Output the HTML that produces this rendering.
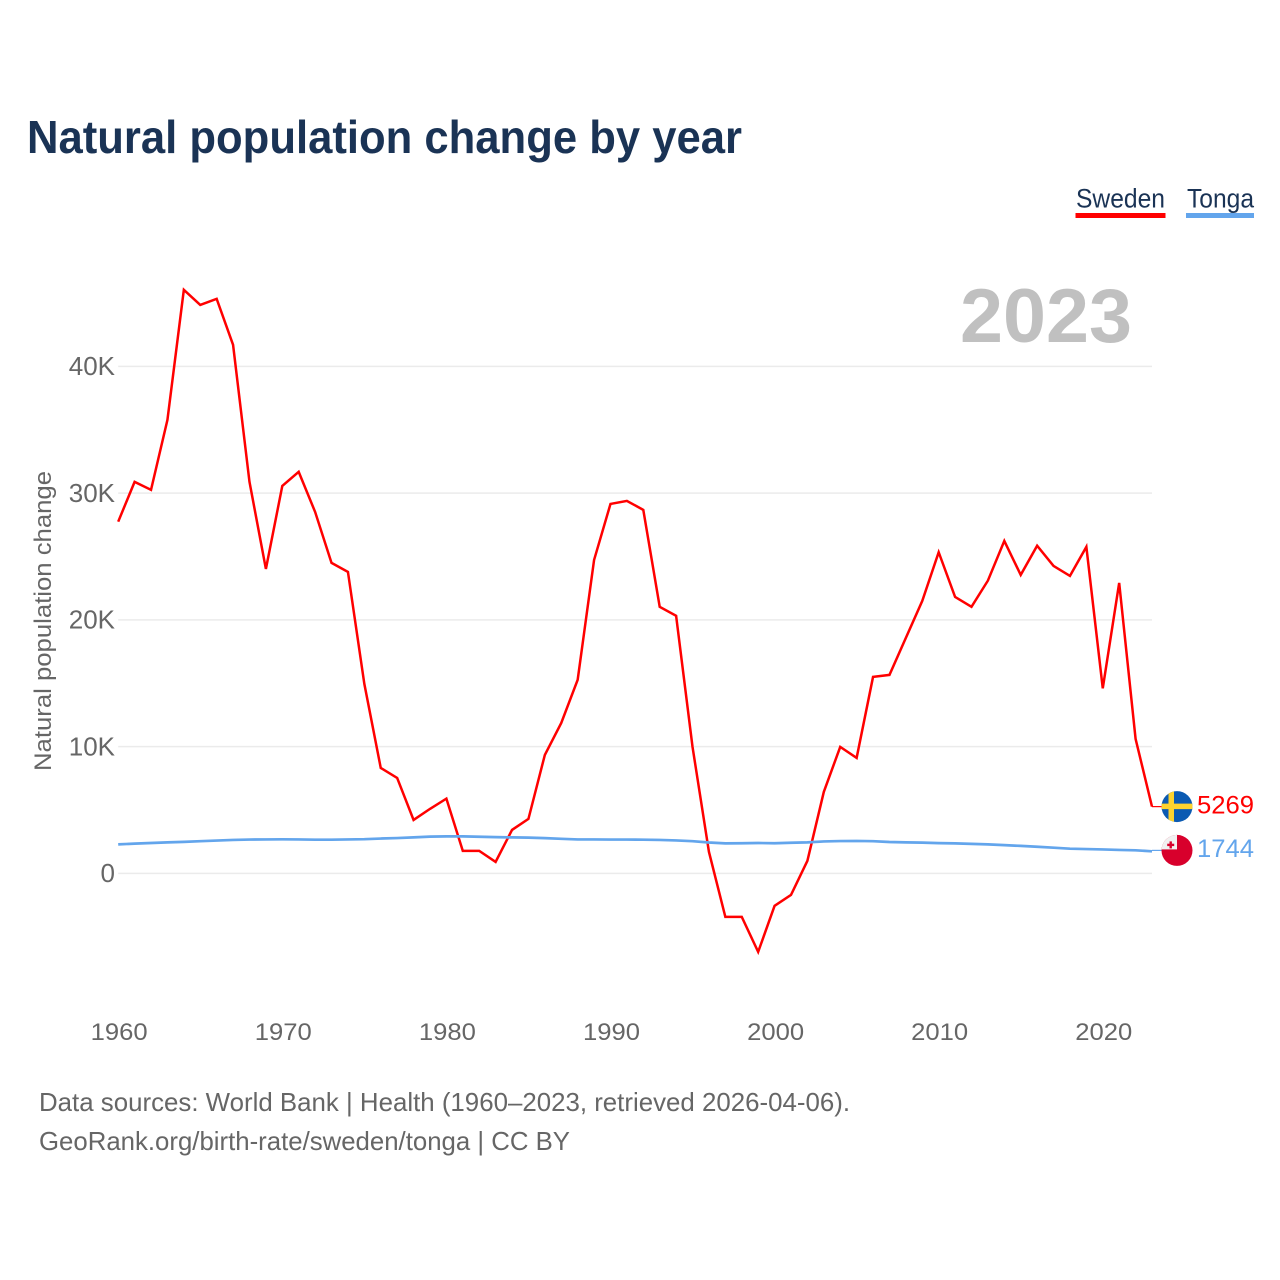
<!DOCTYPE html>
<html lang="en">
<head>
<meta charset="utf-8">
<title>Natural population change by year</title>
<style>
html,body{margin:0;padding:0;background:#fff;width:1280px;height:1280px;overflow:hidden}
svg{display:block}
text{font-family:"Liberation Sans",sans-serif}
</style>
</head>
<body>
<svg id="chart" xmlns="http://www.w3.org/2000/svg" width="1280" height="1280" viewBox="0 0 1280 1280">
  <rect x="0" y="0" width="1280" height="1280" fill="#ffffff"/>
  <text x="27" y="153" font-size="46" font-weight="700" fill="#1a3355" textLength="715" lengthAdjust="spacingAndGlyphs">Natural population change by year</text>

  <g>
    <text x="1076" y="207.5" font-size="27" fill="#1a3355" textLength="89" lengthAdjust="spacingAndGlyphs">Sweden</text>
    <rect x="1075.5" y="213" width="90" height="5" fill="#ff0000"/>
  </g>
  <g>
    <text x="1187" y="207.5" font-size="27" fill="#1a3355" textLength="67" lengthAdjust="spacingAndGlyphs">Tonga</text>
    <rect x="1186" y="213" width="68" height="5" fill="#63a5ec"/>
  </g>

  <text x="960" y="342" font-size="76" font-weight="700" fill="#c0c0c0" textLength="172" lengthAdjust="spacingAndGlyphs">2023</text>

  <g id="grid"></g>
  <g id="yticks"></g>
  <g id="xticks"></g>

  <text transform="translate(51,621) rotate(-90)" text-anchor="middle" font-size="24" fill="#666666" textLength="300" lengthAdjust="spacingAndGlyphs">Natural population change</text>

  <path id="line-sweden" fill="none" stroke="#ff0000" stroke-width="2.5" stroke-linejoin="miter"/>
  <path id="line-tonga" fill="none" stroke="#63a5ec" stroke-width="2.7" stroke-linejoin="round"/>

  <line id="connector-sweden" stroke="#ff0000" stroke-width="1.2"/>
  <line id="connector-tonga" stroke="#63a5ec" stroke-width="1.2"/>

  <defs>
    <clipPath id="flag-clip"><circle cx="0" cy="0" r="15.5"/></clipPath>
  </defs>
  <g id="flag-sweden">
    <g clip-path="url(#flag-clip)">
      <rect x="-16" y="-16" width="32" height="32" fill="#0b5ab2"/>
      <rect x="-8.5" y="-16" width="5.5" height="32" fill="#fdd32e"/>
      <rect x="-16" y="-3" width="32" height="5.5" fill="#fdd32e"/>
    </g>
  </g>
  <g id="flag-tonga">
    <g clip-path="url(#flag-clip)">
      <rect x="-16" y="-16" width="32" height="32" fill="#d8002c"/>
      <rect x="-16" y="-16" width="16" height="15" fill="#f1f1f1"/>
      <rect x="-7.5" y="-9" width="2.4" height="7" fill="#d8002c"/>
      <rect x="-9.8" y="-6.7" width="7" height="2.4" fill="#d8002c"/>
    </g>
  </g>

  <text id="value-sweden" x="1197" font-size="25" fill="#ff0000" textLength="57" lengthAdjust="spacingAndGlyphs"></text>
  <text id="value-tonga" x="1197" font-size="25" fill="#63a5ec" textLength="57" lengthAdjust="spacingAndGlyphs"></text>

  <text x="39" y="1111" font-size="26" fill="#666666" textLength="811" lengthAdjust="spacingAndGlyphs">Data sources: World Bank | Health (1960–2023, retrieved 2026-04-06).</text>
  <text x="39" y="1150" font-size="26" fill="#666666" textLength="531" lengthAdjust="spacingAndGlyphs">GeoRank.org/birth-rate/sweden/tonga | CC BY</text>
</svg>

<script>
const firstYear = 1960;
const xTickYears = [1960, 1970, 1980, 1990, 2000, 2010, 2020];
const yTickValues = [0, 10000, 20000, 30000, 40000];
const yTickLabels = ["0", "10K", "20K", "30K", "40K"];
const swedenValues = [
  27750, 30890, 30260, 35780, 46040, 44850, 45330, 41700, 30890, 24020,
  30570, 31680, 28520, 24500, 23790, 14950, 8320, 7530, 4220, 5090,
  5900, 1780, 1780, 910, 3430, 4300, 9350, 11870, 15270, 24730,
  29150, 29390, 28680, 21030, 20320, 9980, 1700, -3430, -3430, -6190,
  -2560, -1700, 990, 6430, 9980, 9110, 15500, 15660, 18580, 21500,
  25340, 21810, 21030, 23100, 26230, 23550, 25850, 24260, 23470, 25760,
  14600, 22920, 10610, 5269
];
const tongaValues = [
  2290, 2350, 2400, 2450, 2490, 2540, 2590, 2640, 2670, 2680,
  2690, 2680, 2660, 2660, 2680, 2700, 2750, 2790, 2840, 2900,
  2920, 2920, 2890, 2860, 2840, 2820, 2780, 2730, 2680, 2680,
  2670, 2670, 2660, 2640, 2600, 2540, 2440, 2370, 2380, 2400,
  2380, 2420, 2450, 2520, 2550, 2560, 2540, 2480, 2450, 2430,
  2390, 2370, 2330, 2290, 2230, 2170, 2100, 2030, 1950, 1920,
  1890, 1850, 1820, 1744
];

const SVGNS = "http://www.w3.org/2000/svg";
const plotLeft = 118.2, plotRight = 1152, lastYear = 2023;
const zeroY = 873.4, pxPerUnit = 507 / 40000;

function xScale(year) {
  return plotLeft + (year - firstYear) * (plotRight - plotLeft) / (lastYear - firstYear);
}
function yScale(value) {
  return zeroY - value * pxPerUnit;
}
function linePath(values) {
  return values.map(function (v, i) {
    return (i ? "L" : "M") + xScale(firstYear + i).toFixed(2) + " " + yScale(v).toFixed(2);
  }).join(" ");
}

const grid = document.getElementById("grid");
const yticks = document.getElementById("yticks");
const xticks = document.getElementById("xticks");

yTickValues.forEach(function (v, i) {
  const gl = document.createElementNS(SVGNS, "line");
  
  
  gl.setAttribute("x1", plotLeft);
  gl.setAttribute("x2", plotRight);
  gl.setAttribute("y1", yScale(v));
  gl.setAttribute("y2", yScale(v));
  gl.setAttribute("stroke", "#ebebeb");
  gl.setAttribute("stroke-width", "1.5");
  grid.appendChild(gl);

  const t = document.createElementNS(SVGNS, "text");
  
  
  t.setAttribute("x", 115);
  t.setAttribute("y", yScale(v) + 8.6);
  t.setAttribute("text-anchor", "end");
  t.setAttribute("font-size", "26");
  t.setAttribute("fill", "#666666");
  t.textContent = yTickLabels[i];
  yticks.appendChild(t);
});

xTickYears.forEach(function (yr) {
  const t = document.createElementNS(SVGNS, "text");
  
  
  t.setAttribute("x", xScale(yr) + 1);
  t.setAttribute("y", 1040);
  t.setAttribute("text-anchor", "middle");
  t.setAttribute("font-size", "24.5");
  t.setAttribute("fill", "#666666");
  t.setAttribute("textLength", "57");
  t.setAttribute("lengthAdjust", "spacingAndGlyphs");
  t.textContent = String(yr);
  xticks.appendChild(t);
});

document.getElementById("line-sweden").setAttribute("d", linePath(swedenValues));
document.getElementById("line-tonga").setAttribute("d", linePath(tongaValues));

function placeEnd(key, values, flagOffset, textOffset) {
  const last = values[values.length - 1];
  const y = yScale(last) + flagOffset;
  const c = document.getElementById("connector-" + key);
  c.setAttribute("x1", plotRight);
  c.setAttribute("x2", 1164);
  c.setAttribute("y1", y);
  c.setAttribute("y2", y);
  document.getElementById("flag-" + key).setAttribute("transform", "translate(1177," + y + ")");
  const lbl = document.getElementById("value-" + key);
  lbl.setAttribute("y", y + textOffset);
  lbl.textContent = String(last);
}
placeEnd("sweden", swedenValues, 0, 7);
placeEnd("tonga", tongaValues, -0.9, 6.5);
</script>
</body>
</html>
